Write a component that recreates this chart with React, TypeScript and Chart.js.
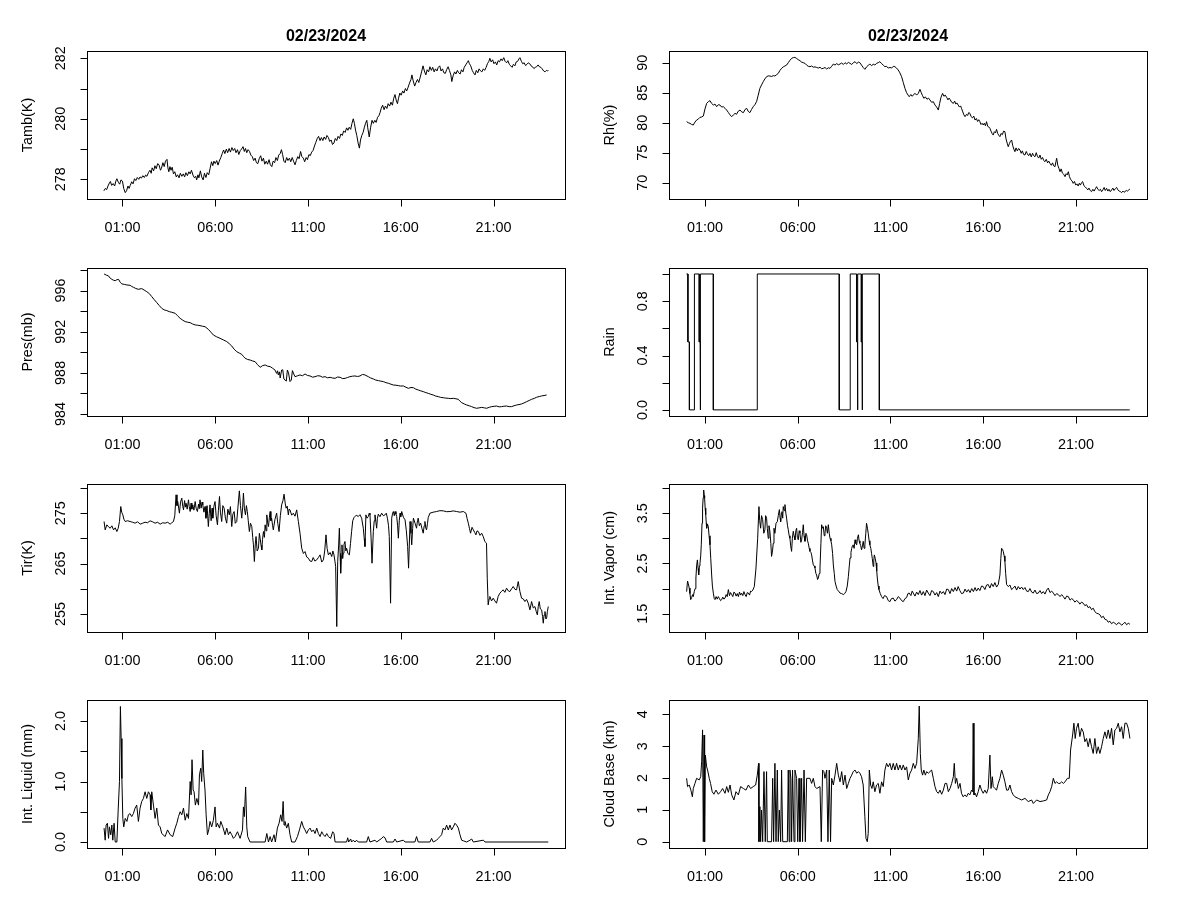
import React, { useEffect, useRef } from "react";
import { Chart, registerables } from "chart.js";

Chart.register(...registerables);

const TITLE = "02/23/2024";
const TIME_TICKS = [1, 6, 11, 16, 21];
const TIME_LABELS = ["01:00", "06:00", "11:00", "16:00", "21:00"];

type Pt = [number, number];

const TAMB: Pt[] = [
  [0.0,277.62],[0.08,277.7],[0.15,277.66],[0.22,277.78],[0.3,277.88],[0.35,277.93],[0.42,277.8],[0.5,277.86],[0.58,277.78],[0.65,277.95],[0.7,278.02],[0.78,277.9],[0.85,277.84],[0.92,277.98],[1.0,277.94],[1.07,277.7],[1.15,277.56],[1.22,277.62],[1.3,277.78],[1.36,277.7],[1.42,277.8],[1.5,277.92],[1.57,277.85],[1.65,278.02],[1.72,277.96],[1.8,278.06],[1.88,278.0],[1.95,278.08],[2.02,278.04],[2.1,278.12],[2.18,278.06],[2.25,278.14],[2.32,278.1],[2.4,278.22],[2.48,278.3],[2.55,278.2],[2.6,278.38],[2.68,278.28],[2.75,278.45],[2.82,278.35],[2.9,278.52],[2.97,278.48],[3.05,278.3],[3.1,278.36],[3.18,278.55],[3.25,278.42],[3.32,278.6],[3.4,278.66],[3.45,278.38],[3.5,278.25],[3.56,278.42],[3.62,278.3],[3.68,278.4],[3.75,278.18],[3.82,278.25],[3.9,278.08],[3.97,278.15],[4.05,278.05],[4.12,278.2],[4.2,278.1],[4.28,278.18],[4.35,278.08],[4.42,278.22],[4.5,278.12],[4.58,278.25],[4.65,278.18],[4.72,278.3],[4.8,278.14],[4.88,278.05],[4.95,278.1],[5.0,277.98],[5.07,278.15],[5.12,278.05],[5.2,278.28],[5.27,278.08],[5.35,277.98],[5.42,278.2],[5.5,278.06],[5.57,278.22],[5.65,278.15],[5.72,278.35],[5.8,278.58],[5.87,278.45],[5.93,278.6],[6.0,278.52],[6.08,278.62],[6.15,278.47],[6.22,278.6],[6.3,278.72],[6.38,278.85],[6.45,278.97],[6.52,278.85],[6.6,279.0],[6.67,278.88],[6.75,279.02],[6.82,278.9],[6.9,279.05],[6.97,278.95],[7.05,279.02],[7.12,278.88],[7.2,278.98],[7.27,278.82],[7.35,278.95],[7.42,279.0],[7.5,279.08],[7.57,278.92],[7.63,279.02],[7.7,278.88],[7.77,278.98],[7.85,278.92],[7.92,278.8],[8.0,278.75],[8.07,278.62],[8.15,278.7],[8.22,278.55],[8.3,278.52],[8.37,278.68],[8.45,278.78],[8.52,278.6],[8.6,278.7],[8.67,278.5],[8.75,278.6],[8.82,278.5],[8.9,278.65],[8.97,278.48],[9.05,278.42],[9.12,278.6],[9.2,278.55],[9.27,278.72],[9.35,278.62],[9.42,278.8],[9.5,278.85],[9.57,278.98],[9.63,278.82],[9.7,278.6],[9.77,278.55],[9.85,278.72],[9.92,278.62],[10.0,278.7],[10.07,278.58],[10.15,278.72],[10.22,278.6],[10.3,278.48],[10.37,278.62],[10.45,278.75],[10.52,278.68],[10.6,278.92],[10.67,278.75],[10.75,278.7],[10.82,278.58],[10.9,278.72],[10.97,278.65],[11.05,278.82],[11.12,278.78],[11.2,278.9],[11.27,278.95],[11.35,279.1],[11.42,279.22],[11.5,279.35],[11.57,279.42],[11.65,279.28],[11.72,279.38],[11.8,279.28],[11.87,279.4],[11.95,279.32],[12.02,279.45],[12.1,279.38],[12.17,279.25],[12.25,279.3],[12.32,279.15],[12.4,279.2],[12.47,279.35],[12.55,279.28],[12.62,279.42],[12.7,279.35],[12.77,279.5],[12.85,279.45],[12.92,279.6],[13.0,279.55],[13.08,279.7],[13.15,279.62],[13.22,279.72],[13.3,279.65],[13.37,279.85],[13.44,280.0],[13.5,279.85],[13.57,279.6],[13.63,279.45],[13.7,279.2],[13.77,279.03],[13.83,279.3],[13.9,279.45],[13.97,279.55],[14.03,279.7],[14.1,279.85],[14.17,279.95],[14.22,279.7],[14.3,279.4],[14.37,279.7],[14.45,279.95],[14.52,279.85],[14.6,279.95],[14.67,279.88],[14.75,280.05],[14.82,280.1],[14.88,280.2],[14.95,280.35],[15.02,280.45],[15.1,280.3],[15.17,280.42],[15.25,280.34],[15.32,280.5],[15.4,280.42],[15.47,280.55],[15.55,280.45],[15.62,280.68],[15.69,280.8],[15.75,280.62],[15.82,280.5],[15.88,280.68],[15.95,280.85],[16.02,280.78],[16.1,280.92],[16.17,280.85],[16.25,281.0],[16.32,280.92],[16.4,281.05],[16.47,281.18],[16.55,281.3],[16.6,281.45],[16.67,281.25],[16.75,281.08],[16.82,281.2],[16.9,281.3],[16.97,281.2],[17.05,281.38],[17.12,281.55],[17.2,281.75],[17.27,281.58],[17.35,281.45],[17.42,281.62],[17.5,281.55],[17.57,281.72],[17.65,281.6],[17.72,281.7],[17.8,281.55],[17.87,281.65],[17.95,281.58],[18.02,281.7],[18.1,281.75],[18.17,281.58],[18.25,281.65],[18.32,281.52],[18.4,281.5],[18.47,281.62],[18.55,281.72],[18.62,281.6],[18.7,281.45],[18.75,281.23],[18.82,281.42],[18.9,281.55],[18.97,281.48],[19.05,281.6],[19.12,281.52],[19.2,281.48],[19.27,281.62],[19.35,281.55],[19.42,281.7],[19.5,281.78],[19.57,281.85],[19.64,281.92],[19.7,281.82],[19.77,281.75],[19.85,281.6],[19.92,281.52],[20.0,281.45],[20.07,281.6],[20.15,281.52],[20.22,281.65],[20.3,281.58],[20.37,281.55],[20.45,281.65],[20.52,281.6],[20.6,281.7],[20.67,281.82],[20.75,281.9],[20.8,282.0],[20.87,281.88],[20.95,281.95],[21.02,281.82],[21.1,281.88],[21.17,281.78],[21.25,281.92],[21.32,281.88],[21.4,281.98],[21.47,281.92],[21.55,282.02],[21.62,281.9],[21.7,281.85],[21.77,281.92],[21.85,281.8],[21.92,281.75],[22.0,281.7],[22.07,281.8],[22.15,281.75],[22.22,281.88],[22.3,281.9],[22.37,281.98],[22.42,282.02],[22.5,281.9],[22.57,281.82],[22.65,281.85],[22.72,281.76],[22.8,281.8],[22.87,281.85],[22.95,281.82],[23.02,281.75],[23.1,281.72],[23.17,281.66],[23.25,281.7],[23.32,281.72],[23.4,281.78],[23.47,281.72],[23.55,281.7],[23.62,281.65],[23.7,281.58],[23.77,281.55],[23.85,281.6],[23.92,281.58],[23.95,281.6]
];

const RH: Pt[] = [
  [0.01,80.17],[0.1,80.0],[0.19,79.89],[0.28,79.7],[0.37,79.61],[0.46,80.1],[0.55,80.44],[0.64,80.6],[0.73,80.89],[0.82,80.95],[0.91,81.11],[1.0,82.3],[1.09,83.22],[1.18,83.5],[1.27,83.67],[1.36,83.2],[1.45,82.94],[1.54,83.1],[1.63,82.67],[1.72,83.0],[1.81,82.94],[1.9,82.6],[1.99,82.67],[2.08,82.4],[2.17,82.11],[2.26,81.7],[2.35,81.3],[2.44,81.0],[2.53,81.3],[2.62,81.56],[2.7,81.4],[2.79,81.9],[2.89,82.11],[2.98,81.8],[3.07,81.67],[3.16,82.2],[3.25,82.39],[3.33,81.9],[3.42,81.67],[3.51,82.2],[3.6,82.67],[3.69,83.0],[3.78,83.5],[3.87,84.6],[3.96,85.72],[4.05,86.3],[4.14,86.83],[4.23,87.3],[4.32,87.67],[4.41,87.8],[4.5,87.78],[4.6,87.7],[4.68,87.85],[4.77,87.78],[4.86,88.0],[4.95,88.22],[5.04,88.7],[5.13,89.06],[5.22,89.3],[5.31,89.45],[5.4,89.61],[5.49,90.0],[5.58,90.4],[5.67,90.72],[5.76,90.85],[5.85,90.89],[5.94,90.7],[6.03,90.5],[6.12,90.33],[6.21,90.1],[6.3,90.0],[6.39,89.89],[6.48,89.6],[6.57,89.4],[6.66,89.33],[6.75,89.45],[6.84,89.25],[6.93,89.3],[7.02,89.22],[7.11,89.1],[7.2,89.25],[7.29,89.0],[7.38,89.06],[7.47,89.2],[7.56,88.95],[7.65,89.15],[7.74,89.06],[7.83,89.4],[7.92,89.78],[8.01,89.6],[8.1,89.85],[8.19,89.65],[8.28,89.78],[8.37,89.95],[8.46,89.7],[8.55,90.0],[8.64,89.8],[8.73,90.05],[8.82,89.89],[8.91,89.7],[9.0,90.0],[9.09,90.17],[9.18,89.85],[9.27,90.1],[9.35,90.0],[9.44,89.6],[9.53,89.2],[9.62,88.89],[9.71,89.3],[9.8,89.55],[9.89,89.78],[9.98,89.5],[10.07,89.75],[10.16,89.61],[10.25,89.9],[10.34,90.0],[10.43,90.17],[10.52,89.85],[10.61,89.6],[10.7,89.33],[10.79,89.4],[10.88,89.1],[10.97,89.22],[11.06,89.1],[11.15,89.4],[11.24,89.33],[11.33,89.1],[11.42,88.78],[11.51,88.3],[11.6,87.67],[11.69,86.7],[11.78,85.72],[11.87,85.0],[11.95,84.6],[12.01,84.33],[12.1,84.7],[12.17,84.4],[12.23,84.61],[12.32,84.9],[12.41,84.6],[12.5,84.89],[12.59,85.56],[12.66,85.0],[12.73,84.5],[12.8,84.06],[12.88,84.3],[12.97,83.9],[13.05,84.1],[13.13,83.78],[13.22,83.4],[13.31,83.5],[13.4,82.94],[13.49,82.6],[13.58,82.11],[13.65,83.2],[13.72,84.2],[13.81,84.89],[13.88,84.4],[13.95,84.6],[14.03,84.22],[14.1,83.8],[14.16,84.1],[14.21,83.89],[14.3,83.4],[14.39,83.22],[14.46,83.6],[14.52,83.1],[14.58,83.3],[14.65,82.94],[14.72,82.6],[14.78,82.8],[14.83,82.39],[14.9,81.8],[14.96,81.3],[15.02,81.0],[15.1,81.4],[15.16,81.2],[15.22,81.7],[15.28,81.56],[15.35,81.0],[15.42,80.8],[15.49,81.1],[15.56,80.44],[15.63,80.7],[15.7,80.2],[15.76,80.5],[15.82,80.17],[15.88,79.7],[15.94,79.9],[16.0,79.61],[16.06,79.9],[16.12,79.5],[16.18,80.17],[16.24,79.4],[16.3,79.3],[16.36,79.06],[16.42,78.6],[16.48,78.2],[16.54,77.94],[16.6,78.5],[16.66,78.3],[16.72,78.89],[16.78,78.2],[16.84,77.9],[16.9,77.67],[16.96,78.2],[17.03,78.0],[17.1,78.6],[17.17,78.5],[17.23,77.3],[17.29,76.6],[17.35,76.0],[17.41,76.5],[17.47,76.9],[17.53,77.11],[17.59,76.2],[17.65,75.6],[17.71,75.17],[17.77,75.8],[17.84,75.3],[17.91,75.7],[17.98,75.44],[18.05,74.9],[18.11,75.3],[18.18,74.7],[18.25,74.61],[18.32,75.2],[18.38,74.8],[18.45,74.5],[18.52,74.89],[18.59,74.3],[18.66,74.9],[18.72,74.5],[18.79,74.33],[18.86,75.0],[18.92,74.4],[18.99,74.1],[19.06,74.61],[19.13,73.9],[19.2,74.2],[19.26,73.7],[19.33,73.5],[19.4,73.9],[19.47,73.3],[19.53,73.6],[19.6,73.22],[19.67,72.9],[19.74,73.3],[19.8,72.8],[19.87,72.67],[19.92,73.5],[19.96,74.06],[20.02,72.9],[20.08,72.4],[20.14,71.83],[20.2,72.3],[20.27,71.6],[20.34,71.4],[20.41,71.0],[20.47,71.5],[20.53,71.3],[20.59,71.83],[20.65,71.0],[20.72,70.5],[20.79,70.3],[20.85,69.89],[20.92,70.2],[20.99,69.6],[21.05,69.8],[21.12,69.44],[21.18,69.9],[21.24,69.6],[21.3,70.0],[21.36,70.17],[21.43,69.5],[21.5,69.3],[21.57,69.06],[21.64,68.8],[21.7,69.1],[21.77,68.7],[21.84,68.5],[21.91,68.9],[21.98,68.6],[22.05,69.0],[22.11,69.33],[22.18,68.9],[22.25,68.7],[22.32,68.9],[22.38,68.5],[22.45,68.8],[22.52,69.2],[22.58,68.7],[22.65,69.06],[22.72,68.6],[22.78,68.9],[22.85,68.5],[22.92,68.78],[22.99,69.1],[23.05,68.7],[23.12,69.0],[23.19,69.22],[23.26,68.8],[23.33,68.6],[23.4,68.5],[23.46,68.33],[23.53,68.6],[23.59,68.4],[23.64,68.5],[23.71,68.7],[23.78,68.6],[23.85,68.8],[23.91,68.94]
];

const PRES: Pt[] = [
  [0.01,997.61],[0.13,997.5],[0.25,997.42],[0.34,997.2],[0.43,997.09],[0.52,997.0],[0.61,996.96],[0.7,997.05],[0.79,997.09],[0.88,996.8],[0.97,996.64],[1.1,996.6],[1.24,996.54],[1.41,996.51],[1.5,996.4],[1.59,996.32],[1.72,996.2],[1.86,996.12],[2.04,996.19],[2.17,996.05],[2.31,995.89],[2.45,995.7],[2.58,995.41],[2.72,995.1],[2.85,994.83],[2.98,994.55],[3.12,994.27],[3.25,994.12],[3.39,994.05],[3.52,993.95],[3.66,993.89],[3.84,993.79],[3.97,993.55],[4.11,993.3],[4.25,993.12],[4.38,992.98],[4.52,992.92],[4.65,992.88],[4.78,992.75],[4.92,992.66],[5.05,992.63],[5.18,992.59],[5.32,992.53],[5.45,992.49],[5.63,992.23],[5.77,991.95],[5.9,991.68],[6.08,991.5],[6.26,991.36],[6.44,991.2],[6.62,991.04],[6.75,990.85],[6.89,990.61],[7.02,990.3],[7.16,990.06],[7.3,989.92],[7.43,989.8],[7.52,989.6],[7.61,989.42],[7.75,989.3],[7.88,989.25],[8.02,989.15],[8.15,989.09],[8.28,988.8],[8.42,988.54],[8.55,988.7],[8.69,988.77],[8.82,988.65],[8.96,988.61],[9.09,988.45],[9.22,988.28],[9.31,987.95],[9.36,988.2],[9.4,987.8],[9.46,988.1],[9.5,987.5],[9.58,988.28],[9.64,988.3],[9.7,987.4],[9.76,987.31],[9.83,987.2],[9.89,988.28],[9.95,988.0],[10.03,987.15],[10.1,987.3],[10.16,988.22],[10.23,987.9],[10.3,987.63],[10.44,987.72],[10.57,987.8],[10.7,987.72],[10.84,987.89],[10.97,987.75],[11.11,987.7],[11.25,987.58],[11.38,987.63],[11.52,987.72],[11.65,987.7],[11.78,987.58],[11.92,987.63],[12.05,987.52],[12.19,987.57],[12.33,987.5],[12.46,987.47],[12.6,987.6],[12.73,987.57],[12.87,987.44],[13.0,987.47],[13.13,987.55],[13.26,987.63],[13.4,987.68],[13.53,987.7],[13.67,987.65],[13.8,987.7],[13.94,987.85],[14.07,987.8],[14.25,987.63],[14.38,987.5],[14.52,987.41],[14.65,987.3],[14.79,987.25],[14.92,987.2],[15.06,987.15],[15.2,987.05],[15.33,986.99],[15.47,986.9],[15.6,986.82],[15.74,986.8],[15.87,986.76],[16.0,986.72],[16.14,986.73],[16.28,986.6],[16.41,986.5],[16.55,986.58],[16.68,986.56],[16.81,986.42],[16.94,986.34],[17.08,986.25],[17.21,986.18],[17.35,986.08],[17.48,986.01],[17.62,985.92],[17.75,985.85],[17.88,985.75],[18.02,985.69],[18.15,985.62],[18.29,985.59],[18.42,985.55],[18.56,985.53],[18.7,985.5],[18.83,985.53],[18.97,985.48],[19.1,985.43],[19.19,985.25],[19.28,985.11],[19.42,984.98],[19.55,984.88],[19.69,984.8],[19.82,984.72],[19.95,984.62],[20.09,984.56],[20.22,984.6],[20.36,984.65],[20.5,984.6],[20.63,984.56],[20.77,984.66],[20.9,984.72],[21.03,984.75],[21.16,984.78],[21.3,984.7],[21.43,984.72],[21.56,984.76],[21.7,984.78],[21.84,984.72],[21.97,984.72],[22.1,984.8],[22.24,984.88],[22.37,984.92],[22.51,984.98],[22.64,985.08],[22.78,985.2],[22.92,985.32],[23.05,985.43],[23.19,985.52],[23.32,985.63],[23.46,985.7],[23.59,985.76],[23.72,985.8],[23.86,985.85]
];

const RAIN: Pt[] = [
  [0.0,1],[0.08,1],[0.08,0.5],[0.16,0.5],[0.16,0],[0.43,0],[0.43,1],[0.69,1],[0.69,0.5],[0.74,0.5],[0.74,0],[0.76,0],[0.76,1],[1.45,1],[1.45,0],[3.82,0],[3.82,1],[8.24,1],[8.24,0],[8.83,0],[8.83,1],[9.18,1],[9.18,0.5],[9.22,0.5],[9.22,0],[9.24,0],[9.24,1],[9.43,1],[9.43,0.5],[9.47,0.5],[9.47,0],[9.49,0],[9.49,1],[10.4,1],[10.4,0],[23.9,0]
];

const TIR: Pt[] = [
  [0.01,273.35],[0.07,271.69],[0.16,272.69],[0.25,272.3],[0.34,272.02],[0.43,272.5],[0.52,271.69],[0.61,272.1],[0.7,271.36],[0.77,272.0],[0.84,273.35],[0.91,276.32],[0.96,275.2],[1.02,274.67],[1.08,273.8],[1.15,273.35],[1.28,273.5],[1.41,273.35],[1.55,273.2],[1.68,273.02],[1.82,273.3],[1.95,272.82],[2.08,273.0],[2.22,273.21],[2.35,273.1],[2.49,273.48],[2.62,273.3],[2.76,273.02],[2.9,273.2],[3.03,272.82],[3.17,273.1],[3.3,273.02],[3.44,273.2],[3.57,272.82],[3.66,273.1],[3.75,273.35],[3.82,274.5],[3.89,278.64],[3.94,276.5],[3.98,277.31],[4.03,276.0],[4.07,275.0],[4.13,277.2],[4.2,277.98],[4.25,276.4],[4.29,275.66],[4.35,277.5],[4.39,276.2],[4.43,276.98],[4.49,275.8],[4.56,277.65],[4.6,276.3],[4.65,275.33],[4.7,277.0],[4.74,275.8],[4.79,276.65],[4.85,275.6],[4.92,277.31],[4.97,276.0],[5.04,275.33],[5.1,276.8],[5.14,275.9],[5.18,277.65],[5.24,276.0],[5.29,277.2],[5.33,276.65],[5.39,275.2],[5.45,276.32],[5.5,274.0],[5.56,276.5],[5.63,272.35],[5.68,275.0],[5.72,276.65],[5.78,273.5],[5.83,276.0],[5.87,274.01],[5.93,276.4],[5.99,277.31],[6.05,274.5],[6.12,272.69],[6.17,275.5],[6.23,278.31],[6.28,275.2],[6.35,273.35],[6.41,276.5],[6.48,275.99],[6.55,274.0],[6.62,273.02],[6.68,275.8],[6.76,274.67],[6.82,276.3],[6.89,272.35],[6.95,274.8],[7.02,275.33],[7.08,273.0],[7.16,273.35],[7.22,276.0],[7.3,279.43],[7.36,276.5],[7.43,274.01],[7.48,276.2],[7.52,278.97],[7.57,276.0],[7.63,274.67],[7.68,276.5],[7.73,275.33],[7.78,273.5],[7.84,271.36],[7.9,273.0],[7.97,272.35],[8.02,270.2],[8.06,268.72],[8.11,265.41],[8.16,268.9],[8.2,270.37],[8.26,267.5],[8.33,268.06],[8.38,271.0],[8.42,270.04],[8.47,268.6],[8.51,267.72],[8.55,269.8],[8.6,271.36],[8.65,270.2],[8.69,272.69],[8.74,271.5],[8.78,274.67],[8.83,273.0],[8.87,272.35],[8.92,274.2],[8.96,275.33],[9.0,273.5],[9.04,274.01],[9.09,272.6],[9.13,271.69],[9.22,273.8],[9.31,275.0],[9.37,273.0],[9.44,271.36],[9.51,274.5],[9.58,276.65],[9.65,277.5],[9.71,278.77],[9.77,277.0],[9.82,275.99],[9.88,276.4],[9.94,274.67],[9.98,275.8],[10.03,275.66],[10.12,274.6],[10.21,275.0],[10.3,274.4],[10.39,275.66],[10.48,273.35],[10.57,271.03],[10.66,268.06],[10.75,267.0],[10.84,267.39],[10.93,266.3],[11.02,266.07],[11.11,265.5],[11.2,265.41],[11.28,266.2],[11.37,265.5],[11.47,265.74],[11.56,266.2],[11.65,266.73],[11.74,265.3],[11.83,265.74],[11.9,267.5],[11.97,270.7],[12.03,268.0],[12.1,266.73],[12.19,267.2],[12.28,266.4],[12.34,267.5],[12.4,266.73],[12.45,265.5],[12.49,264.42],[12.55,252.51],[12.6,265.41],[12.65,268.5],[12.69,272.02],[12.73,267.0],[12.76,263.1],[12.8,266.5],[12.83,268.72],[12.87,266.0],[12.9,267.06],[12.94,268.8],[12.99,269.38],[13.04,267.5],[13.08,268.06],[13.15,267.0],[13.23,266.73],[13.29,269.0],[13.35,271.36],[13.41,273.5],[13.48,274.14],[13.6,274.6],[13.71,274.34],[13.8,274.7],[13.89,274.01],[13.98,272.02],[14.03,270.0],[14.07,268.39],[14.12,274.67],[14.18,274.0],[14.25,274.34],[14.3,275.0],[14.34,274.67],[14.4,270.04],[14.45,265.08],[14.52,271.36],[14.57,273.5],[14.61,274.67],[14.66,273.2],[14.7,272.02],[14.74,274.0],[14.79,274.8],[14.88,274.3],[14.97,275.0],[15.06,274.5],[15.15,274.67],[15.22,275.0],[15.28,274.01],[15.34,272.5],[15.38,270.37],[15.45,257.14],[15.51,274.01],[15.56,275.0],[15.6,275.33],[15.65,274.5],[15.69,275.33],[15.74,274.8],[15.78,274.34],[15.83,272.5],[15.87,270.04],[15.92,273.5],[15.96,275.0],[16.0,274.3],[16.05,275.33],[16.14,274.2],[16.23,273.68],[16.3,271.5],[16.37,268.39],[16.42,264.09],[16.5,273.35],[16.55,271.0],[16.59,268.72],[16.64,272.0],[16.68,274.01],[16.77,273.0],[16.85,272.02],[16.9,273.5],[16.94,274.01],[17.0,272.5],[17.07,273.02],[17.14,272.0],[17.21,271.03],[17.26,272.5],[17.3,273.35],[17.35,272.0],[17.39,271.69],[17.44,273.0],[17.48,274.14],[17.57,275.0],[17.75,275.2],[17.93,275.33],[18.11,275.5],[18.29,275.46],[18.47,275.3],[18.65,275.33],[18.83,275.45],[19.01,275.33],[19.19,275.2],[19.37,275.33],[19.51,275.0],[19.57,274.0],[19.64,273.02],[19.7,272.0],[19.76,271.03],[19.84,272.2],[19.91,271.69],[19.98,271.2],[20.05,270.7],[20.11,271.5],[20.18,271.36],[20.27,270.6],[20.36,271.03],[20.45,270.3],[20.53,269.38],[20.62,269.05],[20.66,262.1],[20.71,256.81],[20.76,258.0],[20.8,258.47],[20.89,257.6],[20.98,258.14],[21.07,257.6],[21.16,257.14],[21.25,258.5],[21.34,259.13],[21.43,259.5],[21.52,259.79],[21.61,259.3],[21.7,260.12],[21.79,259.6],[21.88,259.46],[21.97,260.0],[22.06,260.45],[22.15,259.9],[22.24,259.79],[22.33,261.44],[22.42,259.46],[22.51,258.14],[22.6,258.0],[22.69,257.47],[22.78,257.9],[22.87,257.14],[22.96,255.82],[23.05,257.47],[23.14,256.2],[23.23,256.48],[23.3,255.5],[23.36,254.83],[23.41,256.5],[23.46,257.47],[23.52,256.0],[23.59,255.82],[23.64,254.5],[23.68,253.17],[23.72,254.8],[23.77,255.49],[23.82,254.0],[23.86,254.17],[23.9,255.5],[23.95,256.48]
];

const VAPOR: Pt[] = [
  [0.01,1.94],[0.06,2.15],[0.1,2.1],[0.15,2.01],[0.19,1.9],[0.23,1.78],[0.28,1.82],[0.33,1.88],[0.37,1.84],[0.42,1.94],[0.47,2.0],[0.51,2.21],[0.55,2.45],[0.59,2.57],[0.63,2.4],[0.66,2.27],[0.7,2.45],[0.73,2.51],[0.77,2.65],[0.8,2.87],[0.84,3.3],[0.87,3.6],[0.9,3.8],[0.93,3.96],[0.96,3.85],[0.98,3.8],[1.01,3.6],[1.04,3.47],[1.07,3.3],[1.09,3.2],[1.14,3.28],[1.18,3.23],[1.22,3.05],[1.27,2.87],[1.31,2.6],[1.36,2.27],[1.4,2.05],[1.45,1.91],[1.5,1.8],[1.54,1.78],[1.6,1.84],[1.66,1.79],[1.72,1.84],[1.78,1.8],[1.84,1.76],[1.9,1.78],[1.96,1.83],[2.02,1.79],[2.08,1.81],[2.14,1.88],[2.2,1.84],[2.26,1.98],[2.32,1.86],[2.38,1.92],[2.44,1.88],[2.5,1.84],[2.56,1.93],[2.62,1.91],[2.68,1.85],[2.74,1.9],[2.8,1.84],[2.86,1.93],[2.92,1.87],[2.97,1.91],[3.04,1.86],[3.1,1.94],[3.16,1.88],[3.22,1.84],[3.28,1.92],[3.34,1.91],[3.4,1.87],[3.46,1.95],[3.51,1.94],[3.58,1.97],[3.66,2.04],[3.75,2.41],[3.84,3.0],[3.91,3.63],[3.95,3.35],[4.0,3.2],[4.05,3.45],[4.11,3.37],[4.17,3.1],[4.23,3.17],[4.27,3.45],[4.32,3.4],[4.36,3.2],[4.41,3.0],[4.45,3.25],[4.5,3.14],[4.55,2.9],[4.59,2.64],[4.64,2.75],[4.68,2.9],[4.72,3.2],[4.77,3.1],[4.83,3.3],[4.9,3.33],[4.95,3.45],[5.01,3.57],[5.05,3.4],[5.08,3.33],[5.12,3.5],[5.15,3.53],[5.19,3.4],[5.22,3.63],[5.27,3.55],[5.31,3.67],[5.36,3.5],[5.4,3.4],[5.45,3.25],[5.49,3.17],[5.54,3.05],[5.58,3.0],[5.62,2.85],[5.67,2.74],[5.71,3.0],[5.76,3.14],[5.8,3.05],[5.85,2.97],[5.9,3.15],[5.94,3.2],[5.98,3.02],[6.03,2.97],[6.08,3.15],[6.12,3.1],[6.17,2.92],[6.21,2.97],[6.26,3.12],[6.3,3.27],[6.34,3.05],[6.39,2.94],[6.44,3.1],[6.48,3.07],[6.53,2.95],[6.57,2.9],[6.62,2.8],[6.66,2.74],[6.71,2.72],[6.75,2.67],[6.8,2.55],[6.84,2.47],[6.89,2.45],[6.93,2.41],[6.98,2.3],[7.02,2.27],[7.07,2.18],[7.11,2.21],[7.16,2.3],[7.2,2.41],[7.25,2.9],[7.29,3.27],[7.34,3.2],[7.38,3.23],[7.43,3.05],[7.47,3.1],[7.51,3.25],[7.56,3.2],[7.6,3.1],[7.65,3.27],[7.7,3.1],[7.74,3.0],[7.79,2.95],[7.83,2.87],[7.88,2.7],[7.92,2.47],[7.97,2.3],[8.01,2.14],[8.07,2.05],[8.13,1.98],[8.2,1.95],[8.28,1.91],[8.37,1.9],[8.46,1.88],[8.53,1.9],[8.6,1.94],[8.67,2.05],[8.73,2.24],[8.78,2.45],[8.82,2.61],[8.87,2.72],[8.91,2.8],[8.95,2.85],[8.99,2.87],[9.04,2.8],[9.09,2.97],[9.13,2.9],[9.18,2.87],[9.22,3.0],[9.27,3.07],[9.31,2.95],[9.35,2.9],[9.4,2.85],[9.44,2.77],[9.49,2.85],[9.53,2.94],[9.58,2.8],[9.62,2.87],[9.67,3.1],[9.71,3.3],[9.76,3.2],[9.8,3.1],[9.85,2.95],[9.89,2.87],[9.94,2.8],[9.98,2.7],[10.02,2.6],[10.07,2.44],[10.1,2.55],[10.13,2.67],[10.18,2.6],[10.22,2.51],[10.26,2.35],[10.29,2.21],[10.34,2.05],[10.38,1.98],[10.45,1.9],[10.52,1.84],[10.6,1.8],[10.68,1.86],[10.79,1.84],[10.88,1.76],[10.97,1.74],[11.05,1.8],[11.15,1.81],[11.24,1.75],[11.33,1.78],[11.42,1.84],[11.51,1.81],[11.6,1.76],[11.69,1.74],[11.78,1.8],[11.87,1.82],[11.94,1.9],[12.01,1.91],[12.1,1.86],[12.17,1.95],[12.23,1.91],[12.32,1.85],[12.41,1.93],[12.5,1.88],[12.59,1.96],[12.68,1.87],[12.77,1.94],[12.86,1.86],[12.95,1.97],[13.04,1.91],[13.13,1.86],[13.22,1.96],[13.31,1.94],[13.4,1.87],[13.49,1.92],[13.58,1.84],[13.67,1.95],[13.76,1.9],[13.85,1.94],[13.94,1.88],[14.03,1.99],[14.12,1.98],[14.21,1.9],[14.3,2.0],[14.39,1.94],[14.48,2.02],[14.57,1.95],[14.65,2.04],[14.74,1.96],[14.83,1.9],[14.93,1.91],[15.02,1.99],[15.11,1.93],[15.2,1.98],[15.29,1.92],[15.38,2.0],[15.47,1.94],[15.56,2.02],[15.64,1.95],[15.73,2.01],[15.82,1.96],[15.91,2.05],[16.0,2.04],[16.09,1.98],[16.18,2.07],[16.27,2.08],[16.36,2.01],[16.45,2.1],[16.54,2.04],[16.63,2.12],[16.72,2.03],[16.81,2.08],[16.9,2.27],[16.95,2.6],[16.99,2.8],[17.04,2.78],[17.08,2.74],[17.13,2.65],[17.17,2.54],[17.21,2.3],[17.26,2.08],[17.35,2.04],[17.44,2.07],[17.53,1.98],[17.62,2.01],[17.71,2.05],[17.8,1.97],[17.89,2.04],[17.98,1.99],[18.07,2.03],[18.16,1.98],[18.25,2.02],[18.34,1.95],[18.43,1.94],[18.52,2.0],[18.61,1.93],[18.7,1.91],[18.79,1.97],[18.88,1.9],[18.97,1.91],[19.06,1.96],[19.15,1.9],[19.24,1.94],[19.33,1.89],[19.42,1.97],[19.51,2.01],[19.6,1.92],[19.69,1.95],[19.78,1.91],[19.87,1.86],[19.96,1.9],[20.05,1.88],[20.14,1.84],[20.23,1.88],[20.32,1.84],[20.41,1.79],[20.5,1.85],[20.59,1.84],[20.68,1.77],[20.77,1.8],[20.85,1.78],[20.94,1.73],[21.03,1.76],[21.12,1.74],[21.21,1.69],[21.3,1.73],[21.39,1.71],[21.48,1.66],[21.57,1.68],[21.66,1.62],[21.75,1.64],[21.84,1.58],[21.93,1.61],[22.02,1.54],[22.11,1.51],[22.2,1.5],[22.29,1.48],[22.38,1.42],[22.47,1.45],[22.56,1.39],[22.65,1.38],[22.74,1.33],[22.83,1.35],[22.92,1.3],[23.01,1.33],[23.1,1.31],[23.19,1.28],[23.28,1.32],[23.37,1.31],[23.46,1.27],[23.55,1.3],[23.64,1.33],[23.73,1.28],[23.82,1.31],[23.91,1.29]
];

const LIQUID: Pt[] = [
  [0.01,0.23],[0.07,0.03],[0.12,0.28],[0.19,0.31],[0.25,0.06],[0.3,0.25],[0.37,0.12],[0.43,0.28],[0.48,0.03],[0.55,0.31],[0.61,0.0],[0.7,0.0],[0.77,0.53],[0.84,1.0],[0.89,2.24],[0.93,1.71],[0.97,1.05],[1.02,0.39],[1.07,0.25],[1.15,0.39],[1.24,0.34],[1.32,0.45],[1.41,0.47],[1.5,0.42],[1.59,0.47],[1.68,0.56],[1.77,0.61],[1.86,0.34],[1.95,0.56],[2.04,0.67],[2.13,0.72],[2.22,0.83],[2.31,0.72],[2.4,0.83],[2.49,0.78],[2.53,0.53],[2.58,0.83],[2.67,0.61],[2.76,0.39],[2.85,0.56],[2.94,0.28],[3.03,0.25],[3.12,0.14],[3.3,0.09],[3.43,0.2],[3.57,0.12],[3.71,0.09],[3.84,0.23],[3.93,0.31],[4.02,0.42],[4.11,0.5],[4.2,0.45],[4.29,0.56],[4.38,0.36],[4.47,0.47],[4.56,0.39],[4.65,1.0],[4.7,0.78],[4.75,1.36],[4.81,0.86],[4.86,0.83],[4.93,0.61],[5.01,0.72],[5.1,0.61],[5.15,1.11],[5.22,1.22],[5.27,1.0],[5.33,1.52],[5.38,1.13],[5.45,0.86],[5.51,0.45],[5.58,0.12],[5.65,0.2],[5.72,0.34],[5.81,0.25],[5.9,0.36],[5.99,0.58],[6.05,0.25],[6.12,0.31],[6.23,0.23],[6.3,0.34],[6.41,0.25],[6.53,0.12],[6.62,0.23],[6.71,0.12],[6.8,0.17],[6.89,0.12],[6.98,0.06],[7.07,0.09],[7.2,0.17],[7.34,0.06],[7.47,0.2],[7.52,0.58],[7.57,0.42],[7.64,0.91],[7.7,0.25],[7.75,0.09],[7.88,0.0],[8.69,0.0],[8.78,0.14],[8.87,0.0],[8.96,0.09],[9.04,0.0],[9.17,0.12],[9.24,0.0],[9.35,0.23],[9.44,0.31],[9.53,0.45],[9.6,0.34],[9.66,0.67],[9.71,0.28],[9.76,0.34],[9.85,0.23],[9.94,0.31],[10.03,0.12],[10.12,0.0],[10.3,0.0],[10.43,0.09],[10.54,0.2],[10.66,0.34],[10.75,0.25],[10.84,0.2],[10.93,0.14],[11.02,0.2],[11.11,0.23],[11.2,0.17],[11.29,0.2],[11.38,0.14],[11.47,0.23],[11.56,0.14],[11.65,0.09],[11.74,0.17],[11.83,0.12],[11.92,0.09],[12.01,0.14],[12.1,0.09],[12.22,0.06],[12.33,0.17],[12.4,0.14],[12.46,0.0],[13.08,0.0],[13.14,0.07],[13.19,0.0],[13.3,0.05],[13.35,0.0],[13.44,0.03],[13.53,0.0],[13.62,0.03],[13.71,0.0],[14.16,0.0],[14.25,0.09],[14.34,0.0],[14.61,0.03],[14.7,0.0],[14.97,0.06],[15.06,0.09],[15.15,0.07],[15.24,0.0],[15.6,0.0],[15.69,0.05],[15.78,0.0],[16.14,0.03],[16.23,0.0],[16.76,0.0],[16.85,0.09],[16.94,0.0],[17.57,0.0],[17.66,0.06],[17.75,0.0],[17.93,0.03],[18.02,0.06],[18.11,0.09],[18.2,0.12],[18.29,0.23],[18.38,0.2],[18.47,0.28],[18.56,0.2],[18.65,0.28],[18.74,0.2],[18.83,0.25],[18.92,0.31],[19.01,0.28],[19.1,0.23],[19.19,0.12],[19.28,0.03],[19.37,0.02],[19.55,0.0],[19.73,0.03],[19.82,0.05],[19.91,0.0],[20.45,0.03],[20.54,0.0],[23.95,0.0]
];

const CLOUD: Pt[] = [
  [0.01,1.99],[0.06,1.73],[0.15,1.78],[0.24,1.62],[0.32,1.41],[0.37,1.67],[0.46,1.83],[0.55,1.99],[0.69,1.94],[0.77,2.04],[0.82,2.51],[0.87,3.51],[0.91,0.0],[0.95,3.35],[0.98,0.0],[1.02,2.72],[1.09,2.35],[1.14,2.25],[1.23,1.99],[1.3,1.83],[1.39,1.57],[1.48,1.49],[1.59,1.62],[1.72,1.49],[1.84,1.57],[1.95,1.67],[2.08,1.52],[2.17,1.73],[2.26,1.55],[2.35,1.78],[2.44,1.47],[2.56,1.31],[2.67,1.57],[2.8,1.47],[2.92,1.73],[3.07,1.67],[3.21,1.62],[3.34,1.78],[3.46,1.67],[3.6,1.73],[3.73,1.78],[3.82,2.09],[3.89,2.46],[3.91,0.0],[3.96,1.1],[4.0,0.0],[4.05,0.99],[4.11,0.0],[4.18,2.2],[4.25,0.0],[4.32,2.2],[4.36,0.0],[4.59,0.0],[4.65,1.99],[4.7,0.0],[4.77,2.46],[4.83,0.0],[4.9,2.25],[4.95,0.0],[5.01,0.99],[5.08,0.0],[5.13,2.25],[5.19,0.0],[5.44,0.0],[5.49,2.25],[5.54,0.0],[5.58,2.25],[5.63,1.99],[5.67,0.0],[5.72,2.25],[5.8,0.0],[5.85,2.25],[5.94,1.99],[6.0,0.0],[6.07,1.99],[6.12,0.0],[6.21,1.99],[6.26,0.0],[6.34,2.25],[6.41,0.0],[6.48,1.99],[6.66,1.99],[6.75,1.83],[6.84,1.99],[6.93,1.73],[7.02,1.67],[7.2,1.73],[7.27,0.0],[7.34,2.25],[7.41,2.2],[7.47,1.99],[7.56,2.25],[7.63,0.0],[7.7,2.25],[7.77,0.0],[7.83,1.99],[7.92,1.78],[8.01,2.09],[8.1,2.46],[8.19,2.09],[8.28,1.88],[8.37,2.2],[8.46,1.78],[8.55,2.09],[8.64,1.67],[8.73,1.83],[8.82,1.99],[8.91,2.09],[8.99,2.2],[9.09,2.25],[9.18,2.15],[9.27,2.2],[9.35,2.15],[9.44,2.04],[9.53,1.78],[9.62,0.78],[9.68,0.1],[9.75,0.0],[9.8,0.26],[9.86,2.25],[9.93,1.78],[10.0,1.67],[10.07,1.88],[10.16,1.57],[10.25,1.78],[10.34,1.83],[10.43,1.52],[10.52,1.88],[10.61,1.73],[10.7,2.25],[10.79,2.46],[10.88,2.35],[10.97,2.46],[11.06,2.25],[11.15,2.46],[11.24,2.25],[11.33,2.46],[11.42,2.25],[11.51,2.41],[11.6,2.25],[11.69,2.41],[11.78,2.25],[11.87,2.35],[11.96,1.94],[12.05,2.15],[12.14,2.25],[12.23,2.46],[12.32,2.3],[12.41,2.46],[12.5,3.24],[12.55,4.26],[12.61,2.77],[12.66,2.25],[12.73,2.09],[12.8,2.25],[12.88,2.09],[12.95,2.2],[13.04,2.15],[13.13,2.2],[13.22,2.25],[13.31,1.99],[13.4,1.73],[13.49,1.57],[13.58,1.52],[13.67,1.62],[13.76,1.49],[13.85,1.62],[13.94,1.83],[14.03,1.83],[14.12,1.57],[14.21,1.67],[14.3,1.83],[14.39,2.04],[14.44,2.46],[14.5,1.83],[14.57,1.99],[14.66,1.67],[14.75,1.83],[14.83,1.52],[14.92,1.41],[15.01,1.47],[15.1,1.41],[15.19,1.52],[15.28,1.47],[15.37,1.62],[15.43,1.57],[15.46,3.72],[15.5,1.47],[15.57,1.52],[15.64,1.41],[15.73,1.57],[15.82,1.78],[15.91,1.62],[16.0,1.52],[16.09,1.62],[16.18,1.52],[16.27,1.67],[16.36,2.72],[16.42,1.67],[16.49,2.04],[16.54,1.73],[16.63,1.67],[16.72,1.62],[16.81,1.83],[16.9,1.99],[16.99,2.25],[17.08,2.09],[17.17,1.88],[17.26,1.62],[17.35,1.62],[17.44,1.78],[17.53,1.57],[17.62,1.47],[17.71,1.41],[17.89,1.36],[18.07,1.31],[18.25,1.36],[18.43,1.26],[18.61,1.31],[18.7,1.2],[18.88,1.31],[19.06,1.26],[19.24,1.28],[19.42,1.31],[19.51,1.47],[19.6,1.57],[19.69,1.73],[19.78,1.99],[19.87,1.83],[19.96,1.88],[20.05,1.83],[20.14,1.83],[20.23,1.88],[20.32,1.83],[20.41,1.88],[20.54,1.99],[20.64,1.99],[20.71,2.88],[20.82,3.35],[20.89,3.72],[20.96,3.24],[21.03,3.56],[21.12,3.72],[21.21,3.3],[21.3,3.56],[21.39,3.45],[21.48,3.14],[21.57,3.24],[21.66,2.98],[21.75,3.24],[21.84,2.98],[21.93,2.77],[22.02,3.24],[22.11,2.77],[22.2,2.98],[22.29,2.77],[22.38,2.98],[22.47,3.24],[22.56,3.45],[22.65,3.24],[22.74,3.51],[22.83,3.24],[22.92,3.56],[23.01,3.04],[23.1,3.51],[23.19,3.56],[23.28,3.72],[23.37,3.45],[23.46,3.61],[23.55,3.24],[23.64,3.72],[23.73,3.72],[23.82,3.56],[23.91,3.24]
];

const Y_LABELS = ["Tamb(K)", "Rh(%)", "Pres(mb)", "Rain", "Tir(K)", "Int. Vapor (cm)", "Int. Liquid (mm)", "Cloud Base (km)"];

const TAMB_TICKS = [278, 279, 280, 281, 282];
const TAMB_TICK_LABELS = ["278", "", "280", "", "282"];
const RH_TICKS = [70, 75, 80, 85, 90];
const RH_TICK_LABELS = ["70", "75", "80", "85", "90"];
const PRES_TICKS = [984, 986, 988, 990, 992, 994, 996, 998];
const PRES_TICK_LABELS = ["984", "", "988", "", "992", "", "996", ""];
const RAIN_TICKS = [0, 0.2, 0.4, 0.6, 0.8, 1.0];
const RAIN_TICK_LABELS = ["0.0", "", "0.4", "", "0.8", ""];
const TIR_TICKS = [255, 260, 265, 270, 275, 280];
const TIR_TICK_LABELS = ["255", "", "265", "", "275", ""];
const VAPOR_TICKS = [1.5, 2.0, 2.5, 3.0, 3.5, 4.0];
const VAPOR_TICK_LABELS = ["1.5", "", "2.5", "", "3.5", ""];
const LIQUID_TICKS = [0, 0.5, 1.0, 1.5, 2.0];
const LIQUID_TICK_LABELS = ["0.0", "", "1.0", "", "2.0"];
const CLOUD_TICKS = [0, 1, 2, 3, 4];
const CLOUD_TICK_LABELS = ["0", "1", "2", "3", "4"];

const FONT = "14.4px 'Liberation Sans', Arial, sans-serif";
const TITLE_FONT = "bold 16px 'Liberation Sans', Arial, sans-serif";

type PanelDef = {
  data: Pt[];
  label: string;
  ticks: number[];
  tickLabels: string[];
  yMin: number;
  yMax: number;
  col: number;
  row: number;
  title: boolean;
};

const COLS = [
  { left: 87, right: 565, xMin: -0.91, xMax: 24.85 },
  { left: 669, right: 1147, xMin: -0.94, xMax: 24.83 },
];
const ROWS = [
  { top: 51, bottom: 199 },
  { top: 268, bottom: 416 },
  { top: 484, bottom: 632 },
  { top: 700, bottom: 848 },
];

const PANELS: PanelDef[] = [
  { data: TAMB, label: Y_LABELS[0], ticks: TAMB_TICKS, tickLabels: TAMB_TICK_LABELS, yMin: 277.35, yMax: 282.24, col: 0, row: 0, title: true },
  { data: RH, label: Y_LABELS[1], ticks: RH_TICKS, tickLabels: RH_TICK_LABELS, yMin: 67.28, yMax: 91.95, col: 1, row: 0, title: true },
  { data: PRES, label: Y_LABELS[2], ticks: PRES_TICKS, tickLabels: PRES_TICK_LABELS, yMin: 983.81, yMax: 998.19, col: 0, row: 1, title: false },
  { data: RAIN, label: Y_LABELS[3], ticks: RAIN_TICKS, tickLabels: RAIN_TICK_LABELS, yMin: -0.045, yMax: 1.044, col: 1, row: 1, title: false },
  { data: TIR, label: Y_LABELS[4], ticks: TIR_TICKS, tickLabels: TIR_TICK_LABELS, yMin: 251.43, yMax: 280.79, col: 0, row: 2, title: false },
  { data: VAPOR, label: Y_LABELS[5], ticks: VAPOR_TICKS, tickLabels: VAPOR_TICK_LABELS, yMin: 1.136, yMax: 4.08, col: 1, row: 2, title: false },
  { data: LIQUID, label: Y_LABELS[6], ticks: LIQUID_TICKS, tickLabels: LIQUID_TICK_LABELS, yMin: -0.099, yMax: 2.347, col: 0, row: 3, title: false },
  { data: CLOUD, label: Y_LABELS[7], ticks: CLOUD_TICKS, tickLabels: CLOUD_TICK_LABELS, yMin: -0.198, yMax: 4.449, col: 1, row: 3, title: false },
];

function makeAxesPlugin(p: PanelDef) {
  return {
    id: "rStyleAxes",
    afterDraw(chart: any) {
      const ctx: CanvasRenderingContext2D = chart.ctx;
      const { left, right, top, bottom } = chart.chartArea;
      const xs = chart.scales.x;
      const ys = chart.scales.y;
      ctx.save();
      ctx.strokeStyle = "#000";
      ctx.fillStyle = "#000";
      ctx.lineWidth = 1;
      const L = Math.round(left) + 0.5;
      const T = Math.round(top) + 0.5;
      const R = Math.round(right) + 0.5;
      const B = Math.round(bottom) + 0.5;
      ctx.strokeRect(L, T, R - L, B - T);

      ctx.beginPath();
      TIME_TICKS.forEach((t) => {
        const x = Math.round(xs.getPixelForValue(t)) + 0.5;
        ctx.moveTo(x, B);
        ctx.lineTo(x, B + 7);
      });
      ctx.stroke();
      ctx.font = FONT;
      ctx.textAlign = "center";
      ctx.textBaseline = "middle";
      TIME_TICKS.forEach((t, i) => {
        ctx.fillText(TIME_LABELS[i], xs.getPixelForValue(t), bottom + 29);
      });

      ctx.beginPath();
      p.ticks.forEach((v) => {
        const y = Math.round(ys.getPixelForValue(v)) + 0.5;
        ctx.moveTo(L, y);
        ctx.lineTo(L - 7, y);
      });
      ctx.stroke();
      p.ticks.forEach((v, i) => {
        const lab = p.tickLabels[i];
        if (!lab) return;
        ctx.save();
        ctx.translate(left - 25.5, ys.getPixelForValue(v));
        ctx.rotate(-Math.PI / 2);
        ctx.fillText(lab, 0, 0);
        ctx.restore();
      });

      ctx.save();
      ctx.translate(left - 59, (top + bottom) / 2);
      ctx.rotate(-Math.PI / 2);
      ctx.fillText(p.label, 0, 0);
      ctx.restore();

      if (p.title) {
        ctx.font = TITLE_FONT;
        ctx.fillText(TITLE, (left + right) / 2, 37);
      }
      ctx.restore();
    },
  };
}

function Panel({ p }: { p: PanelDef }) {
  const ref = useRef<HTMLCanvasElement | null>(null);
  useEffect(() => {
    if (!ref.current) return;
    const col = COLS[p.col];
    const row = ROWS[p.row];
    const chart = new Chart(ref.current, {
      type: "line",
      data: {
        datasets: [
          {
            data: p.data.map(([x, y]) => ({ x, y })),
            borderColor: "#000",
            borderWidth: 1,
            pointRadius: 0,
            tension: 0,
            fill: false,
          },
        ],
      },
      options: {
        animation: false,
        responsive: false,
        events: [],
        layout: {
          padding: { left: col.left, right: 1200 - col.right, top: row.top, bottom: 900 - row.bottom },
        },
        scales: {
          x: { type: "linear", min: col.xMin, max: col.xMax, display: false },
          y: { type: "linear", min: p.yMin, max: p.yMax, display: false },
        },
        plugins: { legend: { display: false }, tooltip: { enabled: false } },
      },
      plugins: [makeAxesPlugin(p)],
    } as any);
    return () => chart.destroy();
  }, [p]);
  return (
    <canvas
      ref={ref}
      width={1200}
      height={900}
      style={{ position: "absolute", left: 0, top: 0, width: 1200, height: 900 }}
    />
  );
}

export default function App() {
  return (
    <div style={{ position: "absolute", left: 0, top: 0, width: 1200, height: 900, background: "#fff" }}>
      {PANELS.map((p, i) => (
        <Panel key={i} p={p} />
      ))}
    </div>
  );
}
